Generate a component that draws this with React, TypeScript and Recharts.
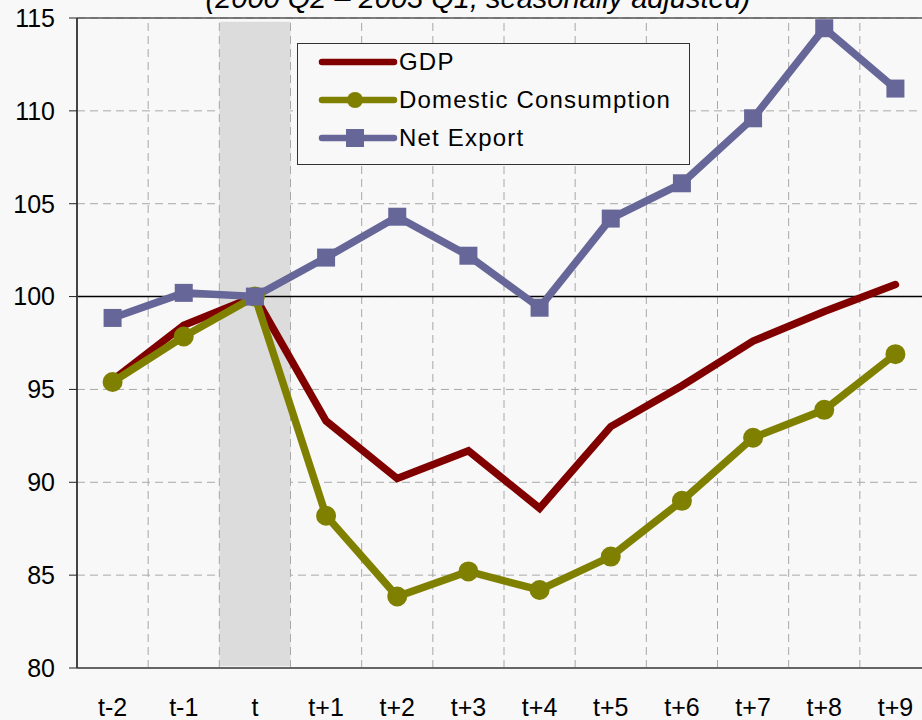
import React from 'react'
import {
  LineChart,
  Line,
  XAxis,
  YAxis,
  CartesianGrid,
  ReferenceArea,
  ReferenceLine
} from 'recharts'

const categories = ['t-2', 't-1', 't', 't+1', 't+2', 't+3', 't+4', 't+5', 't+6', 't+7', 't+8', 't+9']
const gdp = [95.5, 98.45, 100, 93.3, 90.2, 91.7, 88.6, 93.0, 95.2, 97.6, 99.2, 100.65]
const domestic = [95.4, 97.85, 100, 88.2, 83.85, 85.2, 84.2, 86.0, 89.0, 92.4, 93.9, 96.9]
const netExport = [98.85, 100.2, 100, 102.1, 104.3, 102.2, 99.4, 104.2, 106.1, 109.6, 114.45, 111.2]
const yTicks = [80, 85, 90, 95, 100, 105, 110, 115]
const shockPeriod = 't'
const title = '(2000 Q2 – 2003 Q1, seasonally adjusted)'

const FONT = '"Liberation Sans", Arial, sans-serif'
const BG = '#f8f8f8'
const GRID = '#a8a8a8'

const series = [
  { key: 'gdp', name: 'GDP', color: '#800000', marker: 'none' },
  { key: 'domestic', name: 'Domestic Consumption', color: '#808000', marker: 'circle' },
  { key: 'netExport', name: 'Net Export', color: '#666699', marker: 'square' }
]

const data = categories.map((c, i) => ({
  cat: c,
  gdp: gdp[i],
  domestic: domestic[i],
  netExport: netExport[i]
}))

// square marker for net export, centred on the point recharts gives us
const SquareDot = (props: any) => {
  const { cx, cy, index } = props
  if (cx == null || cy == null) return null
  return <rect key={`sq-${index}`} x={cx - 9} y={cy - 9} width={18} height={18} fill="#666699" />
}

const LegendIcon = ({ color, marker }: { color: string; marker: string }) => (
  <svg width={80} height={24} style={{ position: 'absolute', left: 20, top: -12 }}>
    <line x1={4} y1={12} x2={76} y2={12} stroke={color} strokeWidth={6.5} strokeLinecap="round" />
    {marker === 'circle' && <circle cx={37} cy={12} r={8} fill={color} />}
    {marker === 'square' && <rect x={28} y={3} width={18} height={18} fill={color} />}
  </svg>
)

const ChartLegend = () => (
  <div
    style={{
      position: 'absolute',
      left: 297,
      top: 43,
      width: 393,
      height: 122,
      boxSizing: 'border-box',
      border: '1px solid #333',
      background: BG,
      fontFamily: FONT,
      fontSize: 24,
      letterSpacing: '1.2px',
      color: '#000'
    }}
  >
    {series.map((s, i) => (
      <div key={s.key} style={{ position: 'absolute', left: 0, top: 18 + i * 38 }}>
        <LegendIcon color={s.color} marker={s.marker} />
        <span style={{ position: 'absolute', left: 101, top: -14, whiteSpace: 'nowrap', lineHeight: '28px' }}>
          {s.name}
        </span>
      </div>
    ))}
  </div>
)

export default function App() {
  return (
    <div
      style={{
        position: 'absolute',
        left: 0,
        top: 0,
        width: 922,
        height: 720,
        overflow: 'hidden',
        background: BG
      }}
    >
      <LineChart
        width={940}
        height={720}
        data={data}
        margin={{ top: 18, right: 9, bottom: 0, left: 0 }}
        style={{ background: BG }}
      >
        <ReferenceArea
          x1={shockPeriod}
          x2={shockPeriod}
          y1={80.1}
          y2={114.8}
          fill="#dcdcdc"
          fillOpacity={1}
          stroke="none"
          ifOverflow="visible"
        />
        <CartesianGrid vertical={false} stroke={GRID} strokeDasharray="8 5" />
        {categories.slice(1).map(c => (
          <ReferenceLine
            key={`v-${c}`}
            x={c}
            position="start"
            stroke={GRID}
            strokeDasharray="8 5"
          />
        ))}
        <XAxis
          dataKey="cat"
          scale="band"
          height={52}
          tickLine={false}
          tickSize={8}
          tickMargin={22}
          axisLine={{ stroke: '#666', strokeWidth: 2 }}
          tick={{ fontSize: 25, fill: '#000', fontFamily: FONT }}
          interval={0}
        />
        <YAxis
          width={77}
          domain={[80, 115]}
          ticks={yTicks}
          interval={0}
          tickSize={8}
          tickMargin={14}
          tickLine={{ stroke: '#222' }}
          axisLine={{ stroke: '#444', strokeWidth: 2 }}
          tick={{ fontSize: 25, fill: '#000', fontFamily: FONT }}
          allowDataOverflow
        />
        <ReferenceLine y={100} stroke="#000" strokeWidth={1.5} />
        <ReferenceLine y={115} stroke="#555" strokeWidth={1.5} />
        <Line
          type="linear"
          dataKey="gdp"
          name="GDP"
          stroke="#800000"
          strokeWidth={7.5}
          strokeLinecap="round"
          dot={false}
          activeDot={false}
          isAnimationActive={false}
        />
        <Line
          type="linear"
          dataKey="domestic"
          name="Domestic Consumption"
          stroke="#808000"
          strokeWidth={7.5}
          dot={{ r: 9, fill: '#808000', stroke: '#808000', strokeWidth: 2 }}
          activeDot={false}
          isAnimationActive={false}
        />
        <Line
          type="linear"
          dataKey="netExport"
          name="Net Export"
          stroke="#666699"
          strokeWidth={7.5}
          dot={SquareDot}
          activeDot={false}
          isAnimationActive={false}
        />
      </LineChart>
      <ChartLegend />
      <div
        style={{
          position: 'absolute',
          left: 0,
          width: 956,
          top: -19,
          textAlign: 'center',
          fontFamily: FONT,
          fontStyle: 'italic',
          fontSize: 29,
          lineHeight: '34px',
          color: '#000',
          whiteSpace: 'nowrap'
        }}
      >
        {title}
      </div>
    </div>
  )
}
